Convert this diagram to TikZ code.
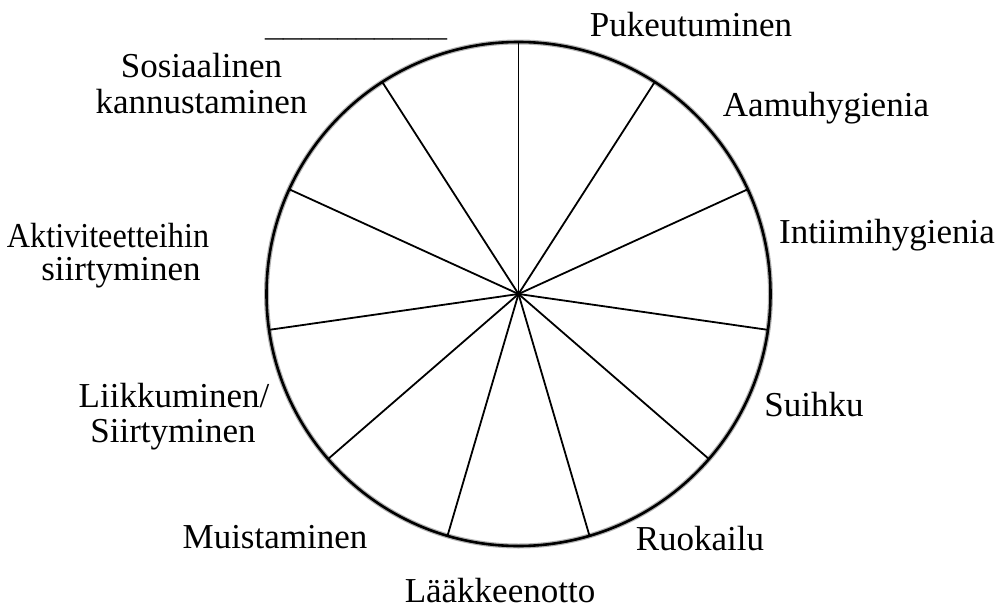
\documentclass[tikz,border=0pt]{standalone}
\usepackage{fontspec}
\setmainfont{Liberation Serif}
\usetikzlibrary{calc}
\begin{document}
\begin{tikzpicture}[x=1pt,y=-1pt,
  lbl/.style={anchor=base,inner sep=0pt,font=\fontsize{35}{36}\selectfont,align=center},
  spoke/.style={line width=1.8pt,black},
  rim/.style={line width=2.6pt,black},
  rimshadow/.style={line width=5pt,black!30}]
\useasboundingbox (0,0) rectangle (997,608);
\coordinate (c) at (518.5,294);
\draw[rimshadow] (c) circle[radius=252pt];
\foreach \k in {0,...,10}{
  \pgfmathsetmacro{\ang}{90-\k*360/11}
  \coordinate (e\k) at ($(c)+(\ang:252pt)$);
  \draw[spoke] (c) -- (e\k);
}
\draw[rim] (c) circle[radius=252pt];
% labels
\node[lbl] (blank) at (356,36) {\scalebox{1.04}[0.8]{\_\_\_\_\_\_\_\_\_\_}};
\node[lbl] (puk) at (691,36) {Pukeutuminen};
\node[lbl] (aam) at (826,116) {Aamuhygienia};
\node[lbl] (int) at (887,243) {Intiimihygienia};
\node[lbl] (sui) at (814,416) {Suihku};
\node[lbl] (ruo) at (700,550) {Ruokailu};
\node[lbl] (laa) at (500,602) {Lääkkeenotto};
\node[lbl] (mui) at (275,548) {Muistaminen};
\node[lbl] (lii1) at (174,407) {Liikkuminen/};
\node[lbl] (lii2) at (173,442) {Siirtyminen};
\node[lbl] (akt1) at (108,247) {\scalebox{0.92}[1]{Aktiviteetteihin}};
\node[lbl] (akt2) at (121,280) {siirtyminen};
\node[lbl] (sos1) at (201.5,77) {Sosiaalinen};
\node[lbl] (sos2) at (201.5,113) {kannustaminen};
\end{tikzpicture}
\end{document}
